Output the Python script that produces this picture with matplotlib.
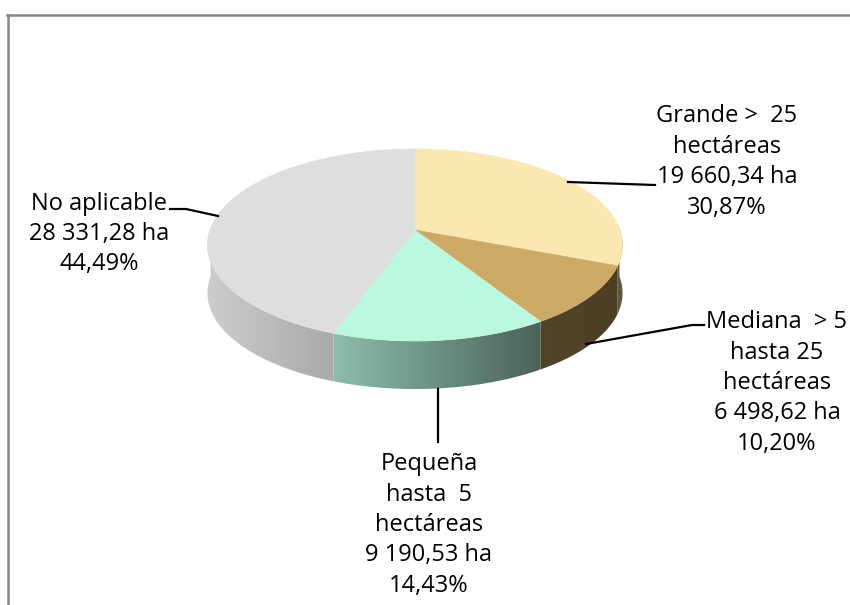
import numpy as np
import matplotlib
matplotlib.use("Agg")
import matplotlib.pyplot as plt
from matplotlib.patches import Polygon
from matplotlib.lines import Line2D
from matplotlib import font_manager

# ---- data ----
categories = ["Grande >  25\nhectáreas",
              "Mediana  > 5\nhasta 25\nhectáreas",
              "Pequeña\nhasta  5\nhectáreas",
              "No aplicable"]
hectares = [19660.34, 6498.62, 9190.53, 28331.28]
percents = [30.87, 10.20, 14.43, 44.49]
top_colors = ["#FBE7B0", "#CDA966", "#BAF8E0", "#DEDEDE"]

# ---- fonts ----
names = {f.name for f in font_manager.fontManager.ttflist}
fam = [n for n in ["Liberation Sans Narrow", "Open Sans", "DejaVu Sans"] if n in names]

def fmt(v):
    s = f"{v:,.2f}"
    return s.replace(",", " ").replace(".", ",")

def fmt_pct(p):
    return f"{p:.2f}".replace(".", ",") + "%"

fig = plt.figure(figsize=(8.5, 6.05), dpi=100)
ax = fig.add_axes([0, 0, 1, 1])
ax.set_xlim(0, 850)
ax.set_ylim(605, 0)
ax.axis("off")

# frame
ax.add_line(Line2D([8, 8], [15, 605], color="#888888", lw=1.8))
ax.add_line(Line2D([7, 850], [15, 15], color="#888888", lw=1.8))

# ---- 3D pie geometry (perspective projection of a tilted disc) ----
CX, CY, A, B, K, DEPTH = 415, 230, 205, 93.7, 0.156, 48

def proj(t):
    u, v = np.cos(t), np.sin(t)
    s = 1 + K * v
    return CX + A * u / s, CY - B * v / s

shade_x = [200, 335, 540, 630]
shade_f = [0.93, 0.76, 0.40, 0.37]

total = sum(hectares)
cum = np.concatenate([[0], np.cumsum(hectares)])
t1s = np.radians(90 - cum[:-1] / total * 360)
t2s = np.radians(90 - cum[1:] / total * 360)

front_lo, front_hi = np.radians(-181), np.radians(1)
gx = np.linspace(195, 635, 441)
for i in range(len(hectares)):
    lo = max(t2s[i], front_lo)
    hi = min(t1s[i], front_hi)
    if hi <= lo:
        continue
    ts = np.linspace(hi, lo, 300)
    xs, ys = proj(ts)
    pts = list(zip(xs, ys)) + list(zip(xs[::-1], ys[::-1] + DEPTH))
    clip = Polygon(pts, closed=True, facecolor="none", edgecolor="none",
                   transform=ax.transData)
    ax.add_patch(clip)
    rgb = np.array(matplotlib.colors.to_rgb(top_colors[i]))
    f = np.interp(gx, shade_x, shade_f)
    img = np.clip(f[None, :, None] * rgb[None, None, :], 0, 1)
    im = ax.imshow(img, extent=[gx[0], gx[-1], 420, 140], aspect="auto",
                   interpolation="bilinear", zorder=2)
    im.set_clip_path(clip)

# tops
for i in range(len(hectares)):
    ts = np.linspace(t1s[i], t2s[i], 200)
    xs, ys = proj(ts)
    pts = [(CX, CY)] + list(zip(xs, ys))
    ax.add_patch(Polygon(pts, closed=True, facecolor=top_colors[i],
                         edgecolor=top_colors[i], lw=0.4, zorder=3))

ax.set_xlim(0, 850)
ax.set_ylim(605, 0)

# leader lines
leaders = [
    ([568, 655], [182, 185]),
    ([586, 692, 704], [344, 325, 325]),
    ([438, 438], [389, 442]),
    ([170, 186, 218], [209, 209, 216]),
]
for xs, ys in leaders:
    ax.add_line(Line2D(xs, ys, color="black", lw=1.6, zorder=4))

# labels
label_pos = [(727, 162), (777, 383), (429, 525), (99, 234)]
for i, (x, y) in enumerate(label_pos):
    txt = f"{categories[i]}\n{fmt(hectares[i])} ha\n{fmt_pct(percents[i])}"
    ax.text(x, y, txt, ha="center", va="center", multialignment="center",
            fontsize=17, family=fam, linespacing=1.36, color="black", zorder=5)

fig.savefig("out.png", dpi=100)
